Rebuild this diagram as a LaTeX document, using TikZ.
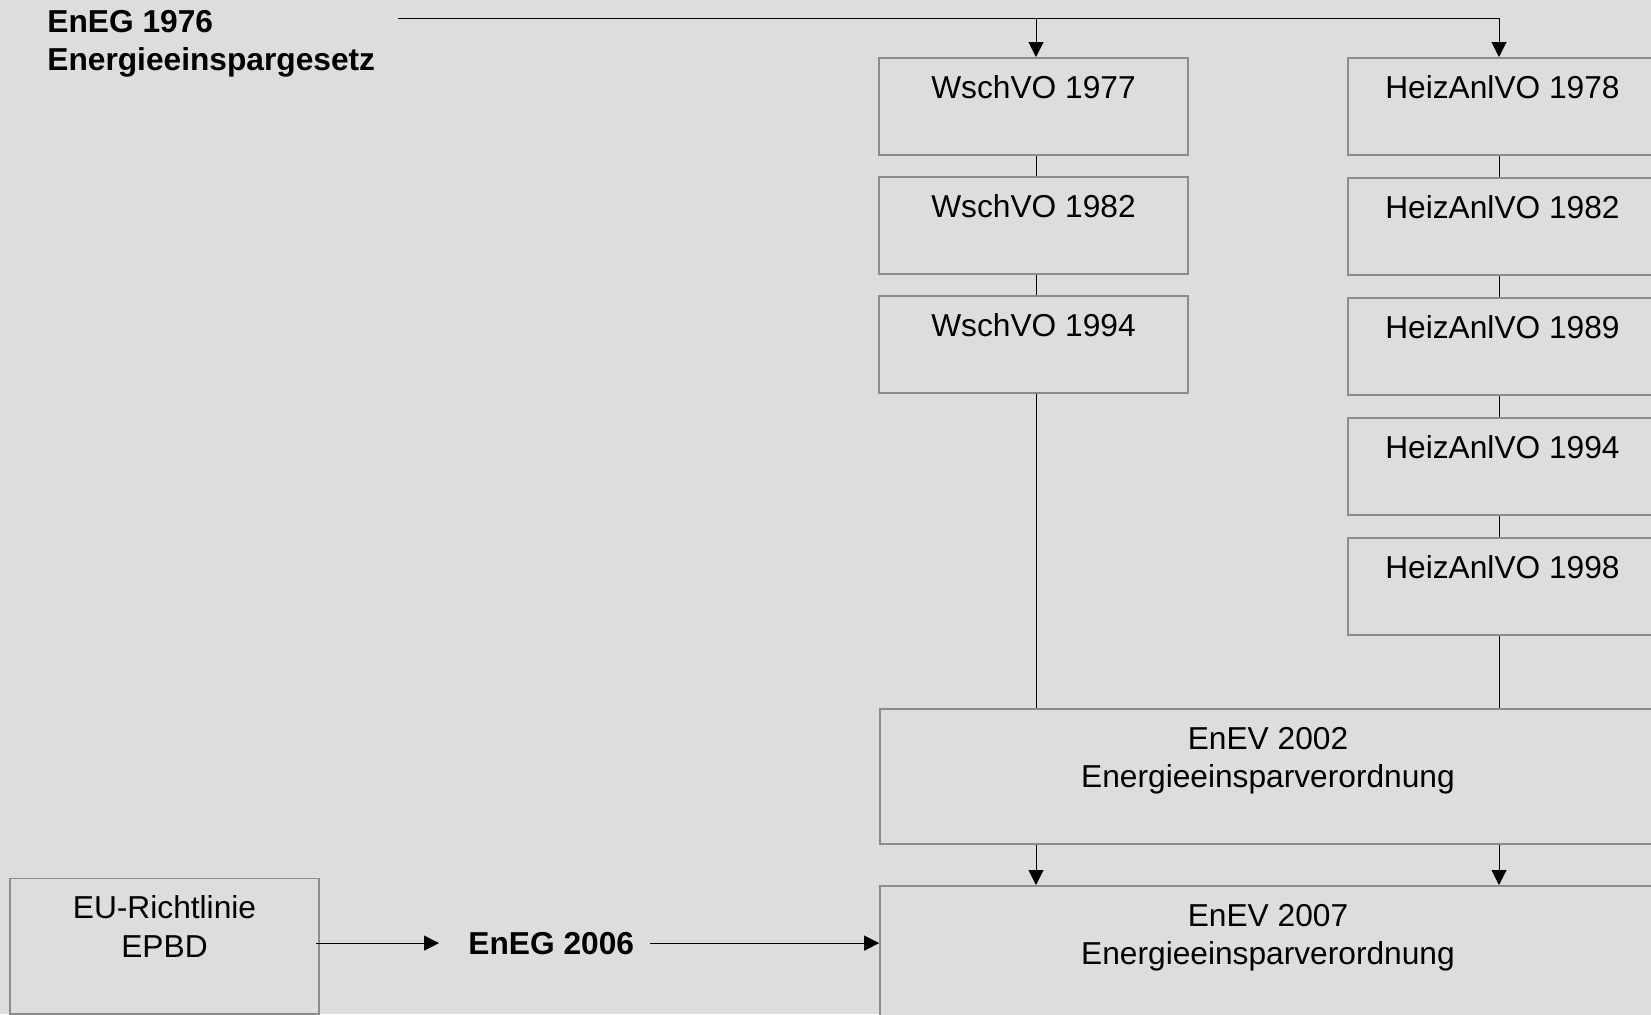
\documentclass[tikz,border=0pt]{standalone}
\usepackage{fontspec}
\setmainfont{Liberation Sans}
\usetikzlibrary{arrows.meta}
\definecolor{bg}{RGB}{221,221,221}
\definecolor{bordergray}{RGB}{140,140,140}
\begin{document}
\begin{tikzpicture}[x=0.5pt,y=-0.5pt,
  box/.style={draw=bordergray, line width=0.8pt, fill=bg, minimum width=154.5pt, minimum height=48.5pt, inner sep=0pt, anchor=north},
  widebox/.style={box, minimum width=388pt, minimum height=67.5pt},
  eubox/.style={box, minimum height=67.8pt},
  lbl/.style={font=\fontsize{15.85}{19}\selectfont, inner sep=0pt, anchor=base},
  ttl/.style={font=\fontsize{15.85}{19}\selectfont\bfseries, inner sep=0pt},
  conn/.style={draw=black, line width=0.5pt},
  arr/.style={conn, -{Triangle[length=7.5pt,width=7.5pt]}},
  ws/.style={xshift=1.25pt},
  hx/.style={xshift=-1.75pt},
]
\useasboundingbox (0,0) rectangle (1651,1014);
\clip (0,0) rectangle (1651,1014);
\fill[bg] (0,0) rectangle (1651,1014);

% title
\node[ttl, anchor=base west] (t1) at (47,32) {EnEG 1976};
\node[ttl, anchor=base west] (t2) at (47,70.5) {Energieeinspargesetz};
\coordinate (tstart) at (398,18);

% WschVO column
\node[box] (w1) at (1033.5,57) {};
\node[box] (w2) at (1033.5,176) {};
\node[box] (w3) at (1033.5,295) {};
\node[lbl] (w1l) at ([yshift=-20.5pt]w1.north) {WschVO 1977};
\node[lbl] (w2l) at ([yshift=-20.5pt]w2.north) {WschVO 1982};
\node[lbl] (w3l) at ([yshift=-20.5pt]w3.north) {WschVO 1994};

% HeizAnlVO column
\node[box] (h1) at (1502.5,57) {};
\node[box] (h2) at (1502.5,177) {};
\node[box] (h3) at (1502.5,297) {};
\node[box] (h4) at (1502.5,417) {};
\node[box] (h5) at (1502.5,537) {};
\node[lbl] (h1l) at ([yshift=-20.5pt]h1.north) {HeizAnlVO 1978};
\node[lbl] (h2l) at ([yshift=-20.5pt]h2.north) {HeizAnlVO 1982};
\node[lbl] (h3l) at ([yshift=-20.5pt]h3.north) {HeizAnlVO 1989};
\node[lbl] (h4l) at ([yshift=-20.5pt]h4.north) {HeizAnlVO 1994};
\node[lbl] (h5l) at ([yshift=-20.5pt]h5.north) {HeizAnlVO 1998};

% EnEV boxes
\node[widebox] (e02) at (1268,708) {};
\node[lbl] (e02a) at ([yshift=-20.5pt]e02.north) {EnEV 2002};
\node[lbl] (e02b) at ([yshift=-19pt]e02a.base) {Energieeinsparverordnung};
\node[widebox] (e07) at (1268,885) {};
\node[lbl] (e07a) at ([yshift=-20.5pt]e07.north) {EnEV 2007};
\node[lbl] (e07b) at ([yshift=-19pt]e07a.base) {Energieeinsparverordnung};

% EU box and EnEG 2006
\node[eubox] (eu) at (164.5,877.7) {};
\node[lbl] (eua) at ([yshift=-20.5pt]eu.north) {EU-Richtlinie};
\node[lbl] (eub) at ([yshift=-19.5pt]eua.base) {EPBD};
\node[ttl, anchor=base west] (eneg) at (468,954) {EnEG 2006};

% connectors
\draw[arr] (tstart) -| ([hx]h1.north);
\draw[arr] ([ws]w1.north |- tstart) -- ([ws]w1.north);
\draw[conn] ([ws]w1.south) -- ([ws]w2.north);
\draw[conn] ([ws]w2.south) -- ([ws]w3.north);
\draw[conn] ([ws]w3.south) -- ([ws]w3.south |- e02.north);
\draw[conn] ([hx]h1.south) -- ([hx]h2.north);
\draw[conn] ([hx]h2.south) -- ([hx]h3.north);
\draw[conn] ([hx]h3.south) -- ([hx]h4.north);
\draw[conn] ([hx]h4.south) -- ([hx]h5.north);
\draw[conn] ([hx]h5.south) -- ([hx]h5.south |- e02.north);
\draw[arr] ([ws]w3.south |- e02.south) -- ([ws]w3.south |- e07.north);
\draw[arr] ([hx]h5.south |- e02.south) -- ([hx]h5.south |- e07.north);
\draw[arr] ([xshift=-2pt]eu.east |- eneg.center) -- ([xshift=-14.5pt]eneg.west);
\draw[arr] ([xshift=8pt]eneg.east) -- (e07.west |- eneg.center);
\end{tikzpicture}
\end{document}
